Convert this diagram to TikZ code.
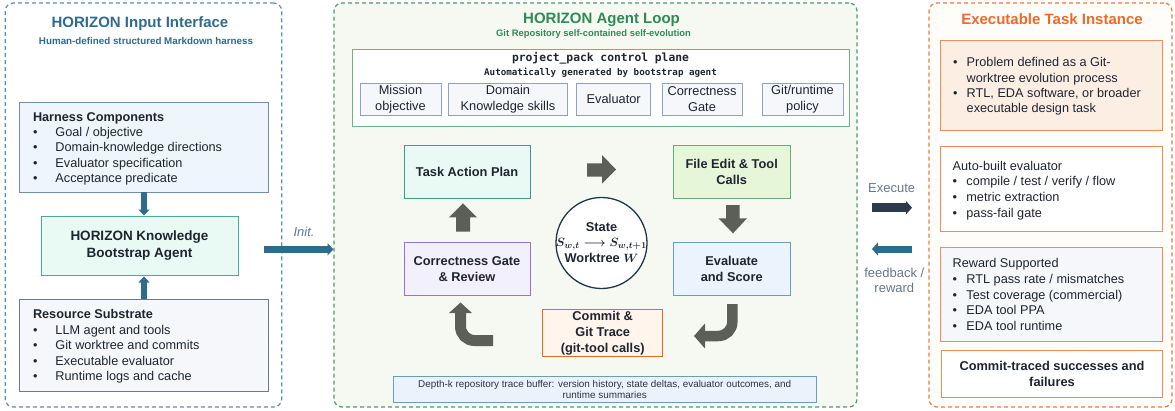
\documentclass[tikz,border=0pt]{standalone}
\usepackage{fontspec}
\setmainfont{Liberation Sans}
\newfontfamily\monofont{DejaVu Sans Mono}
\usetikzlibrary{arrows.meta}
\definecolor{lblue}{HTML}{5B8DB8}
\definecolor{ltitle}{HTML}{2E6B8F}
\definecolor{steel}{HTML}{2E6C8E}
\definecolor{gborder}{HTML}{4E9A6C}
\definecolor{gtitle}{HTML}{2F8A57}
\definecolor{gfill}{HTML}{F6F9F1}
\definecolor{oborder}{HTML}{F07A3A}
\definecolor{otitle}{HTML}{EE6A2A}
\definecolor{ofill}{HTML}{FFFDFA}
\definecolor{txt}{HTML}{1F2530}
\definecolor{blockgray}{HTML}{5C5F58}
\definecolor{navy}{HTML}{2D3A4E}
\definecolor{lgray}{HTML}{66788A}
\definecolor{obox}{HTML}{F28C55}
\definecolor{smallfill}{HTML}{F5F7FA}
\definecolor{smalldraw}{HTML}{8FA3BB}
\newcommand{\blt}{\makebox[22.5pt][l]{\textbullet}}
\newcommand{\rblt}{\makebox[13.7pt][l]{\textbullet}}
\newcommand{\fsz}[2]{\fontsize{#1}{#2}\selectfont}
\begin{document}
\begin{tikzpicture}[x=1pt,y=-1pt,
  every node/.style={outer sep=0pt, inner sep=0pt, text=txt},
  panel/.style={draw, dashed, dash pattern=on 4pt off 3pt, line width=1.2pt, rounded corners=8pt},
  box/.style={draw, line width=1pt, align=center},
  body/.style={font=\fsz{12.7}{15.3}, align=left, anchor=base west},
  bboxtext/.style={font=\bfseries\fsz{12.8}{16}, align=center},
  small/.style={box, fill=smallfill, draw=smalldraw, font=\fsz{12.8}{15.5}, minimum height=32pt},
  flow/.style={-{Triangle[length=6pt,width=12pt]}, line width=6.5pt},
]
\useasboundingbox (0,0) rectangle (1175,410);

% ---------------- panels ----------------
\node[panel, draw=lblue, fill=white, minimum width=276.5pt, minimum height=404pt] (inpanel) at (143.5,205) {};
\node[panel, draw=gborder, fill=gfill, minimum width=523pt, minimum height=404pt] (looppanel) at (595.5,205) {};
\node[panel, draw=oborder, fill=ofill, minimum width=243pt, minimum height=404pt] (taskpanel) at (1050.5,205) {};

% ---------------- left: input interface ----------------
\node[font=\bfseries\fsz{15}{18}, text=ltitle] (intitle) at (140,24) {HORIZON Input Interface};
\node[font=\bfseries\fsz{9.8}{12}, text=ltitle] (insub) at (146,41) {Human-defined structured Markdown harness};

\node[box, fill={rgb,255:red,238;green,245;blue,252}, draw={rgb,255:red,111;green,143;blue,175}, minimum width=249pt, minimum height=90pt] (harness) at (143.5,147) {};
\node[body] (harnesstext) at (33,182.5) {\textbf{Harness Components}\\
\blt Goal / objective\\
\blt Domain-knowledge directions\\
\blt Evaluator specification\\
\blt Acceptance predicate};

\node[box, fill={rgb,255:red,232;green,250;blue,243}, draw={rgb,255:red,74;green,168;blue,154}, minimum width=197pt, minimum height=59pt, font=\bfseries\fsz{13.5}{17}] (know) at (139.5,245.5) {HORIZON Knowledge\\Bootstrap Agent};

\node[box, fill={rgb,255:red,245;green,247;blue,250}, draw={rgb,255:red,107;green,123;blue,139}, minimum width=249pt, minimum height=92pt] (resource) at (143.5,345) {};
\node[body, font=\fsz{12.7}{15.5}] (resourcetext) at (33,380.5) {\textbf{Resource Substrate}\\
\blt LLM agent and tools\\
\blt Git worktree and commits\\
\blt Executable evaluator\\
\blt Runtime logs and cache};

\draw[-{Triangle[length=6pt,width=11pt]}, line width=6pt, steel] (harness.south -| 144,0) -- (144,215.5);
\draw[-{Triangle[length=6pt,width=11pt]}, line width=6pt, steel] (resource.north -| 144,0) -- (144,276.5);

% init arrow
\coordinate (initS) at (264,249.3);
\coordinate (initE) at (333.5,249.3);
\draw[flow, steel] (initS) -- (initE);
\node[font=\itshape\fsz{13}{15}, text=lgray] (initlab) at (304,232) {Init.};

% ---------------- middle: agent loop ----------------
\node[font=\bfseries\fsz{15}{18}, text=gtitle] (looptitle) at (601.5,20) {HORIZON Agent Loop};
\node[font=\bfseries\fsz{9.4}{12}, text=gtitle] (loopsub) at (593.5,34) {Git Repository self-contained self-evolution};

\node[box, fill=white, draw={rgb,255:red,110;green,180;blue,128}, minimum width=497pt, minimum height=77pt] (pack) at (600.5,87.5) {};
\node[font=\monofont\bfseries\fsz{11.3}{13}] (packtitle) at (600.5,58.3) {project\_pack control plane};
\node[font=\monofont\bfseries\fsz{9.2}{11}] (packsub) at (600.5,72.7) {Automatically generated by bootstrap agent};

\node[small, minimum width=81pt] (mission) at (400.5,99.3) {Mission\\objective};
\node[small, minimum width=119pt] (domain) at (508,99.3) {Domain\\Knowledge skills};
\node[small, minimum width=74pt] (evaluator) at (613.7,99.3) {Evaluator};
\node[small, minimum width=80pt] (gate) at (702,99.3) {Correctness\\Gate};
\node[small, minimum width=81pt] (policy) at (802.5,99.3) {Git/runtime\\policy};

\node[box, fill={rgb,255:red,233;green,250;blue,244}, draw={rgb,255:red,62;green,156;blue,140}, minimum width=126pt, minimum height=53pt, bboxtext] (plan) at (467,172) {Task Action Plan};
\node[box, fill={rgb,255:red,230;green,246;blue,217}, draw={rgb,255:red,106;green,170;blue,122}, minimum width=117pt, minimum height=53pt, bboxtext] (edit) at (731.7,172) {File Edit \& Tool\\Calls};
\node[box, fill={rgb,255:red,235;green,243;blue,253}, draw={rgb,255:red,108;green,155;blue,194}, minimum width=117pt, minimum height=53pt, bboxtext] (evalscore) at (731.7,268.7) {Evaluate\\and Score};
\node[box, fill={rgb,255:red,243;green,240;blue,253}, draw={rgb,255:red,155;green,111;blue,227}, minimum width=126pt, minimum height=53pt, bboxtext] (review) at (467,268.7) {Correctness Gate\\\& Review};
\node[box, fill={rgb,255:red,255;green,245;blue,236}, draw={rgb,255:red,234;green,106;blue,36}, minimum width=120pt, minimum height=47pt, bboxtext] (commit) at (602.7,333) {Commit \&\\Git Trace\\(git-tool calls)};

\node[circle, draw={rgb,255:red,30;green,58;blue,74}, fill=white, line width=1.3pt, minimum size=91pt] (state) at (601.5,243) {};
\node[align=center, font=\bfseries\fsz{12.8}{15.5}] (statetext) at (601.5,242.5) {State\\{\boldmath$S_{w,t}\longrightarrow S_{w,t+1}$}\\Worktree {\boldmath$W$}};

% block arrows
\fill[blockgray] (587,163.3) -- (602,163.3) -- (602,155) -- (616,169.5) -- (602,183.5) -- (602,176.7) -- (587,176.7) -- cycle;
\fill[blockgray] (726,205) -- (739.5,205) -- (739.5,218.3) -- (747,218.3) -- (733,233.3) -- (718.5,218.3) -- (726,218.3) -- cycle;
\fill[blockgray] (456,231.7) -- (470,231.7) -- (470,217.3) -- (477,217.3) -- (463,203.3) -- (449,217.3) -- (456,217.3) -- cycle;
\draw[blockgray, line width=10.5pt, rounded corners=14pt] (732.3,304) -- (732.3,336) -- (704,336);
\fill[blockgray] (705,323.5) -- (694,336) -- (705,348.5) -- cycle;
\draw[blockgray, line width=11pt, rounded corners=14pt] (493,340.5) -- (460.5,340.5) -- (460.5,312);
\fill[blockgray] (449,313) -- (460.5,302.5) -- (472,313) -- cycle;

\node[box, fill={rgb,255:red,234;green,243;blue,252}, draw={rgb,255:red,108;green,155;blue,187}, minimum width=423pt, minimum height=26pt, font=\fsz{9.9}{11.8}, text={rgb,255:red,42;green,51;blue,64}] (depth) at (604.7,389.5) {Depth-k repository trace buffer: version history, state deltas, evaluator outcomes, and\\runtime summaries};

% ---------------- execute / feedback ----------------
\coordinate (exS) at (871.7,207.7);
\coordinate (exE) at (912,207.7);
\draw[-{Triangle[length=6pt,width=13pt]}, line width=8.5pt, navy] (exS) -- (exE);
\node[font=\fsz{13}{15}, text=lgray] (exlab) at (891.7,188.5) {Execute};
\coordinate (fbS) at (912,249);
\coordinate (fbE) at (872,249);
\draw[-{Triangle[length=6pt,width=13pt]}, line width=7pt, steel] (fbS) -- (fbE);
\node[font=\fsz{13}{15}, text=lgray, align=center] (fblab) at (894.3,280) {feedback /\\reward};

% ---------------- right: task instance ----------------
\node[font=\bfseries\fsz{15}{18}, text=otitle] (tasktitle) at (1052,19) {Executable Task Instance};

\node[box, fill={rgb,255:red,253;green,238;blue,228}, draw=obox, minimum width=221.5pt, minimum height=90pt] (prob) at (1051.5,85) {};
\node[body, font=\fsz{12.7}{15.33}] (probtext) at (953,112.8) {\rblt Problem defined as a Git-\\
\hspace*{13.7pt}worktree evolution process\\
\rblt RTL, EDA software, or broader\\
\hspace*{13.7pt}executable design task};

\node[box, fill=white, draw=obox, minimum width=221.5pt, minimum height=85pt] (autoeval) at (1051.5,189.2) {};
\node[body, font=\fsz{12.7}{15.67}] (autoevaltext) at (952.7,217.2) {Auto-built evaluator\\
\rblt compile / test / verify / flow\\
\rblt metric extraction\\
\rblt pass-fail gate};

\node[box, fill={rgb,255:red,245;green,247;blue,250}, draw=obox, minimum width=221.5pt, minimum height=93.7pt] (reward) at (1051.5,294.2) {};
\node[body, font=\fsz{12.7}{15.6}] (rewardtext) at (952.7,330.2) {Reward Supported\\
\rblt RTL pass rate / mismatches\\
\rblt Test coverage (commercial)\\
\rblt EDA tool PPA\\
\rblt EDA tool runtime};

\node[box, fill=white, draw=obox, minimum width=220.5pt, minimum height=46.7pt, font=\bfseries\fsz{12.8}{16.7}] (traced) at (1052,374) {Commit-traced successes and\\failures};
\end{tikzpicture}
\end{document}
